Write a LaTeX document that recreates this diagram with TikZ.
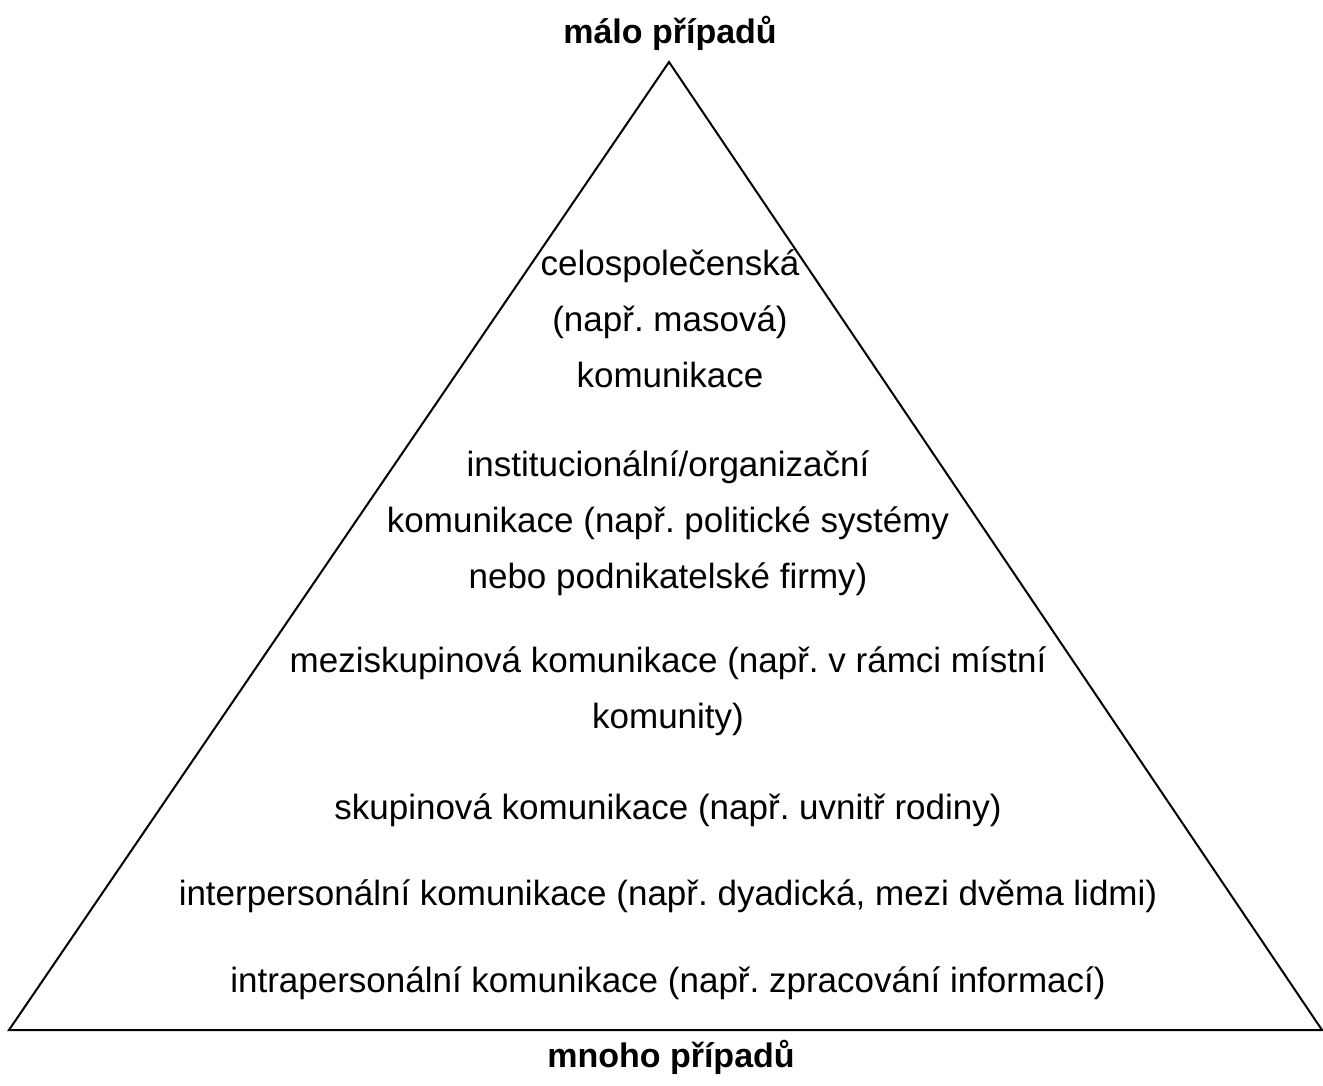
\documentclass[tikz,border=0pt]{standalone}
\usepackage{fontspec}
\setmainfont{Liberation Sans}
\frenchspacing
\tikzset{
  layer/.style={align=center,anchor=base,inner sep=0pt,font=\fontsize{35}{56}\selectfont},
  title/.style={anchor=base,inner sep=0pt,font=\fontsize{34}{40}\selectfont\bfseries}
}

\begin{document}
\begin{tikzpicture}[x=1pt,y=-1pt]
  \useasboundingbox (0,0) rectangle (1323,1086);
  \coordinate (top) at (669,62);
  \coordinate (bl) at (9,1030);
  \coordinate (br) at (1322,1030);
  \draw[line width=2pt,line join=miter] (top) -- (br) -- (bl) -- cycle;
  \node[title] (few) at (670,44) {málo případů};
  \node[title] (many) at (671,1067) {mnoho případů};
  % multi-line nodes: base sits on the last line
  \node[layer] (society) at (670,387) {celospolečenská\\(např. masová)\\komunikace};
  \node[layer] (organisation) at (668,588) {institucionální/organizační\\komunikace (např. politické systémy\\nebo podnikatelské firmy)};
  \node[layer] (intergroup) at (668,728) {meziskupinová komunikace (např. v rámci místní\\komunity)};
  \node[layer] (group) at (668,819) {skupinová komunikace (např. uvnitř rodiny)};
  \node[layer] (interpers) at (668,905) {interpersonální komunikace (např. dyadická, mezi dvěma lidmi)};
  \node[layer] (intrapers) at (668,992) {intrapersonální komunikace (např. zpracování informací)};
\end{tikzpicture}
\end{document}
